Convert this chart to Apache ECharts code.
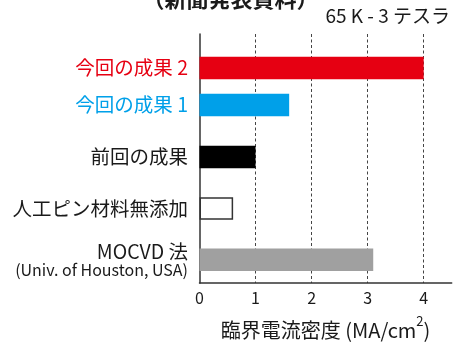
<!DOCTYPE html>
<html>
<head>
<meta charset="utf-8">
<script src="https://cdn.jsdelivr.net/npm/echarts@6/dist/echarts.min.js"></script>
<style>
  html, body { margin: 0; padding: 0; background: #fff; }
  #chart { width: 461px; height: 345px; }
</style>
</head>
<body>
<div id="chart"></div>
<script>
// Critical current density at 65 K, 3 T (MA/cm^2)
const newCategories = ['今回の成果 2', '今回の成果 1'];
const newValues = [4.0, 1.6];
const priorCategories = ['前回の成果', '人工ピン材料無添加', 'MOCVD 法\n(Univ. of Houston, USA)'];
const priorValues = [1.0, 0.6, 3.1];
const xTickValues = [0, 1, 2, 3, 4];

const newColors = ['#e60012', '#00a0e9'];
const priorColors = ['#000000', '#ffffff', '#a0a0a0'];

const FONT = '"Noto Sans CJK JP", "Noto Sans", sans-serif';
const TEXT = '#1a1a1a';
const AXIS = '#333333';

const X_MIN = 0, X_MAX = 4.5;
const plotLeft = 199.5, plotWidth = 252.2;

const chart = echarts.init(document.getElementById('chart'), null, { renderer: 'canvas' });

function barData(values, colors) {
  return values.map((v, i) => ({
    value: v,
    itemStyle: colors[i] === '#ffffff'
      ? { color: '#ffffff', borderColor: AXIS, borderWidth: 1.5 }
      : { color: colors[i] }
  }));
}

const hiddenX = (gridIndex) => ({
  type: 'value', gridIndex, min: X_MIN, max: X_MAX, interval: 1, show: false
});

const catY = (gridIndex, data, labelOpt) => ({
  type: 'category', gridIndex, data, inverse: true,
  axisLine: { show: false }, axisTick: { show: false }, splitLine: { show: false },
  axisLabel: Object.assign({ margin: 11.5, fontFamily: FONT, fontSize: 19.5, color: TEXT }, labelOpt)
});

const option = {
  animation: false,
  textStyle: { fontFamily: FONT },
  grid: [
    // frame: axes and dashed guides
    { left: plotLeft, width: plotWidth, top: 34, height: 258 },
    // new results
    { left: plotLeft, width: plotWidth, top: 49.5, height: 74 },
    // earlier results
    { left: plotLeft, width: plotWidth, top: 131.3, height: 154.2 }
  ],
  xAxis: [
    {
      type: 'value', gridIndex: 0, min: X_MIN, max: X_MAX, interval: 1,
      axisLine: { show: true, lineStyle: { color: AXIS, width: 1.5 } },
      axisTick: { show: false },
      axisLabel: {
        margin: 7, fontSize: 16, color: TEXT, fontFamily: FONT,
        showMaxLabel: false,
        formatter: (v) => xTickValues.includes(v) ? String(v) : ''
      },
      splitLine: {
        show: true, showMinLine: false, showMaxLine: false,
        lineStyle: { color: '#444', width: 1, type: [3, 2.5] }
      },
      name: '{m|臨界電流密度 (MA/cm}{s|2}{m|)}',
      nameLocation: 'middle',
      nameGap: 32,
      nameTextStyle: {
        rich: {
          m: { fontSize: 20, color: TEXT, fontFamily: FONT, verticalAlign: 'bottom', lineHeight: 25 },
          s: { fontSize: 13, color: TEXT, fontFamily: FONT, verticalAlign: 'top', lineHeight: 25, padding: [0, 0, 9, 0] }
        }
      }
    },
    hiddenX(1),
    hiddenX(2)
  ],
  yAxis: [
    {
      type: 'value', gridIndex: 0, min: 0, max: 1,
      axisLine: { show: true, lineStyle: { color: AXIS, width: 1.5 } },
      axisTick: { show: false }, axisLabel: { show: false }, splitLine: { show: false }
    },
    catY(1, newCategories, {
      color: (val, idx) => newColors[idx]
    }),
    catY(2, priorCategories, {
      formatter: (val) => {
        const parts = val.split('\n');
        return parts.length > 1 ? '{a|' + parts[0] + '}\n{b|' + parts[1] + '}' : val;
      },
      rich: {
        a: { fontSize: 19.5, color: TEXT, fontFamily: FONT, lineHeight: 20, align: 'right' },
        b: { fontSize: 16, color: TEXT, fontFamily: FONT, lineHeight: 17, align: 'right' }
      }
    })
  ],
  series: [
    {
      type: 'bar', xAxisIndex: 1, yAxisIndex: 1, barWidth: 22.5,
      data: barData(newValues, newColors), z: 3
    },
    {
      type: 'bar', xAxisIndex: 2, yAxisIndex: 2, barWidth: 22.5,
      data: barData(priorValues, priorColors), z: 3
    }
  ],
  graphic: [
    {
      type: 'text', left: 'center', top: -12,
      style: { text: '（新聞発表資料）', fontSize: 22, fontWeight: 'bold', fill: TEXT, fontFamily: FONT }
    },
    {
      type: 'text', right: 11, top: 6,
      style: { text: '65 K - 3 テスラ', fontSize: 19, fill: TEXT, fontFamily: FONT }
    }
  ]
};

chart.setOption(option);
</script>
</body>
</html>
